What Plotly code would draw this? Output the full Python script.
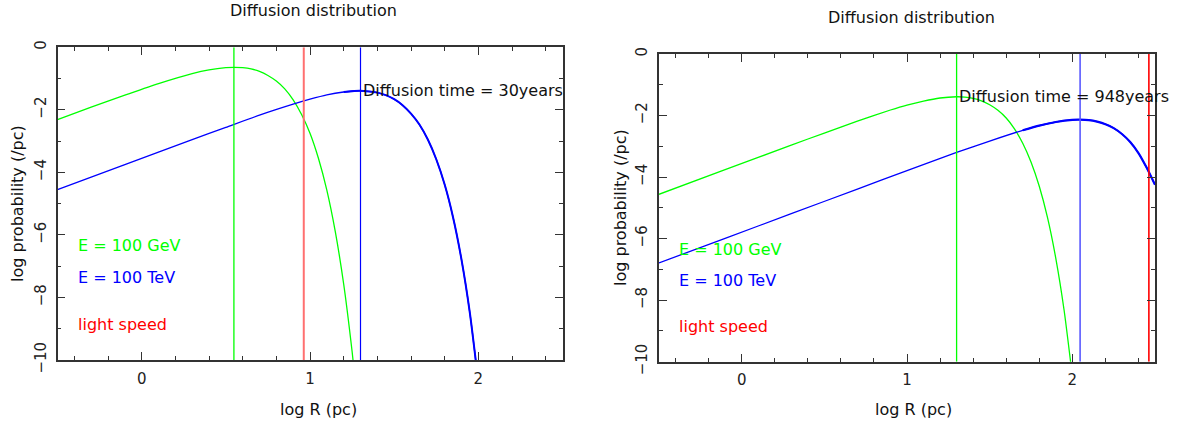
import plotly.graph_objects as go

# ---------------- data ----------------
# Left panel: diffusion time = 30 years
left_green_x = [-0.5, -0.3, -0.1, 0.1, 0.3, 0.4, 0.5, 0.55, 0.6, 0.65, 0.7, 0.75, 0.8,
                0.85, 0.9, 0.95, 1.0, 1.05, 1.1, 1.15, 1.2, 1.25, 1.27]
left_green_y = [-2.31, -1.91, -1.53, -1.16, -0.84, -0.72, -0.65, -0.64, -0.65, -0.69, -0.77,
                -0.90, -1.08, -1.33, -1.68, -2.15, -2.75, -3.55, -4.57, -5.89, -7.57, -9.72, -10.73]
left_blue_x = [-0.5, -0.1, 0.3, 0.5, 0.7, 0.9, 1.0, 1.1, 1.2, 1.295, 1.35, 1.4, 1.45, 1.5,
               1.55, 1.6, 1.65, 1.7, 1.75, 1.8, 1.85, 1.9, 1.95, 2.0]
left_blue_y = [-4.55, -3.75, -2.95, -2.56, -2.17, -1.82, -1.66, -1.52, -1.43, -1.39, -1.41,
               -1.45, -1.53, -1.66, -1.85, -2.12, -2.47, -2.95, -3.58, -4.39, -5.44, -6.79,
               -8.51, -10.71]
left_vlines = {"green": 0.548, "light": 0.963, "blue": 1.30}

# Right panel: diffusion time = 948 years
right_green_x = [-0.5, -0.1, 0.3, 0.5, 0.7, 0.9, 1.0, 1.1, 1.2, 1.3, 1.35, 1.4, 1.45, 1.5,
                 1.55, 1.6, 1.65, 1.7, 1.75, 1.8, 1.85, 1.9, 1.95, 2.0]
right_green_y = [-4.56, -3.76, -2.96, -2.57, -2.18, -1.82, -1.66, -1.53, -1.43, -1.39, -1.40,
                 -1.44, -1.52, -1.65, -1.83, -2.08, -2.43, -2.90, -3.51, -4.30, -5.32, -6.64,
                 -8.32, -10.47]
right_blue_x = [-0.5, -0.1, 0.3, 0.7, 1.0, 1.3, 1.5, 1.7, 1.8, 1.9, 2.0, 2.045, 2.1, 2.15,
                2.2, 2.25, 2.3, 2.35, 2.4, 2.45, 2.5]
right_blue_y = [-6.79, -5.99, -5.19, -4.39, -3.79, -3.20, -2.83, -2.48, -2.33, -2.21, -2.14,
                -2.135, -2.15, -2.20, -2.28, -2.41, -2.60, -2.86, -3.22, -3.70, -4.25]
right_vlines = {"green": 1.30, "blue": 2.047, "light": 2.463}

diffusion_times = [30, 948]
legend_labels = ["E = 100 GeV", "E = 100 TeV", "light speed"]
legend_y = [-6.35, -7.36, -8.86]
legend_x = -0.39
annot_xy = (1.30, -1.39)

GREEN = "#00ff00"
BLUE = "#0000ff"
RED = "#ff0000"
FONT = "DejaVu Sans"
W, H = 1178, 425

fig = go.Figure()

def curve(x, y, color, width, xa, ya):
    fig.add_trace(go.Scatter(x=x, y=y, mode="lines",
                             line=dict(color=color, width=width, shape="spline", smoothing=0.6),
                             xaxis=xa, yaxis=ya, showlegend=False, hoverinfo="skip"))

def vline(x0, color, width, xa, ya):
    fig.add_trace(go.Scatter(x=[x0, x0], y=[-10, 0], mode="lines", line=dict(color=color, width=width),
                             xaxis=xa, yaxis=ya, showlegend=False, hoverinfo="skip"))

# left panel
curve(left_green_x, left_green_y, GREEN, 1.3, "x", "y")
curve(left_blue_x, left_blue_y, BLUE, 1.3, "x", "y")
i0 = left_blue_x.index(1.2)
curve(left_blue_x[i0:], left_blue_y[i0:], BLUE, 2, "x", "y")   # denser-drawn (thicker) falling part
vline(left_vlines["green"], GREEN, 1.3, "x", "y")
vline(left_vlines["light"], "#ff7070", 2, "x", "y")
vline(left_vlines["blue"], BLUE, 1.2, "x", "y")

# right panel
curve(right_green_x, right_green_y, GREEN, 1.3, "x2", "y2")
curve(right_blue_x, right_blue_y, BLUE, 1.3, "x2", "y2")
j0 = right_blue_x.index(1.7)
curve(right_blue_x[j0:], right_blue_y[j0:], BLUE, 2.2, "x2", "y2")
vline(right_vlines["green"], GREEN, 1.3, "x2", "y2")
vline(right_vlines["blue"], "#5a5aff", 1.6, "x2", "y2")
vline(right_vlines["light"], RED, 1.6, "x2", "y2")

def px_x(p):
    return p / W

def px_y(p):
    return 1 - p / H

axis_common = dict(showgrid=False, zeroline=False, showline=True, linecolor="#333333", linewidth=1.5,
                   mirror="ticks", ticks="inside", ticklen=8, tickwidth=1.2, tickcolor="#333333",
                   tickfont=dict(family=FONT, size=15, color="#222222"), fixedrange=True,
                   automargin=False)
xaxis_cfg = dict(axis_common, range=[-0.5, 2.5], tick0=0, dtick=1,
                 minor=dict(tick0=0, dtick=0.2, ticks="inside", ticklen=4, tickwidth=1.2,
                            tickcolor="#333333", showgrid=False), ticklabelstandoff=4)
yaxis_cfg = dict(axis_common, range=[-10, 0], tick0=0, dtick=2, tickangle=-90,
                 minor=dict(tick0=0, dtick=1, ticks="inside", ticklen=4, tickwidth=1.2,
                            tickcolor="#333333", showgrid=False), ticklabelstandoff=4)

fig.update_layout(
    width=W, height=H, margin=dict(l=0, r=0, t=0, b=0, autoexpand=False),
    paper_bgcolor="white", plot_bgcolor="white", showlegend=False,
    xaxis=dict(xaxis_cfg, domain=[px_x(57.5), px_x(562.5)], anchor="y"),
    yaxis=dict(yaxis_cfg, domain=[px_y(360), px_y(47.3)], anchor="x"),
    xaxis2=dict(xaxis_cfg, domain=[px_x(659), px_x(1155)], anchor="y2"),
    yaxis2=dict(yaxis_cfg, domain=[px_y(361.7), px_y(54)], anchor="x2"),
)

annotations = []
tfont = dict(family=FONT, size=16, color="#111111")
for cx, ty, xy_x, yt_x, yt_y in [(313, 10, 318, 17, 204), (911, 17, 913, 620, 208)]:
    annotations.append(dict(text="Diffusion distribution", xref="paper", yref="paper", x=px_x(cx), y=px_y(ty),
                            xanchor="center", yanchor="middle", showarrow=False, font=tfont))
    annotations.append(dict(text="log R (pc)", xref="paper", yref="paper", x=px_x(xy_x), y=px_y(409),
                            xanchor="center", yanchor="middle", showarrow=False, font=tfont))
    annotations.append(dict(text="log probability (/pc)", xref="paper", yref="paper", x=px_x(yt_x), y=px_y(yt_y),
                            xanchor="center", yanchor="middle", showarrow=False, font=tfont, textangle=-90))

for (xr, yr), t in zip([("x", "y"), ("x2", "y2")], diffusion_times):
    annotations.append(dict(text=f"Diffusion time = {t}years", xref=xr, yref=yr, x=annot_xy[0], y=annot_xy[1],
                            xanchor="left", yanchor="middle", showarrow=False, font=tfont))
    for lab, ly, col in zip(legend_labels, legend_y, [GREEN, BLUE, RED]):
        annotations.append(dict(text=lab, xref=xr, yref=yr, x=legend_x, y=ly, xanchor="left", yanchor="middle",
                                showarrow=False, font=dict(family=FONT, size=16, color=col)))

fig.update_layout(annotations=annotations)
fig.write_html("out.html")
